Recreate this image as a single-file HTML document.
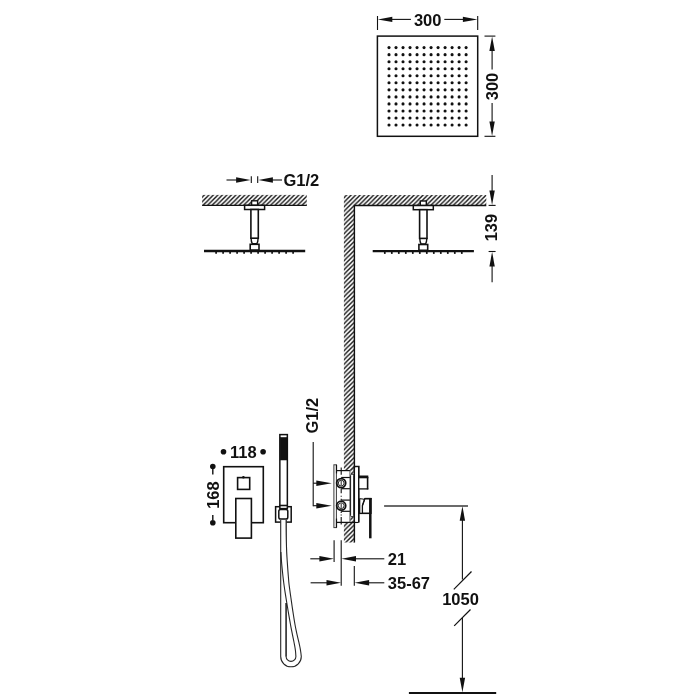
<!DOCTYPE html>
<html><head><meta charset="utf-8"><title>Shower set dimensions</title>
<style>html,body{margin:0;padding:0;background:#fff;}body{width:700px;height:700px;overflow:hidden;}svg{display:block;will-change:transform;filter:grayscale(1);}text{font-family:"Liberation Sans",sans-serif;font-weight:bold;font-size:16.5px;fill:#111111;}</style>
</head><body>
<svg width="700" height="700" viewBox="0 0 700 700">
<defs>
<pattern id="h" patternUnits="userSpaceOnUse" width="4.5" height="4.5" x="1.70" y="0">
<path d="M-1,1 L1,-1 M-1,5.5 L5.5,-1 M3.5,5.5 L5.5,3.5" stroke="#111111" stroke-width="1.42" fill="none"/>
</pattern>
<pattern id="h2" patternUnits="userSpaceOnUse" width="4.5" height="4.5" x="3.40" y="0">
<path d="M-1,1 L1,-1 M-1,5.5 L5.5,-1 M3.5,5.5 L5.5,3.5" stroke="#111111" stroke-width="1.42" fill="none"/>
</pattern>
</defs>
<rect width="700" height="700" fill="#fff"/>
<!-- top view -->
<rect x="377.40" y="36.10" width="100.30" height="100.20" fill="none" stroke="#111111" stroke-width="1.50" />
<g fill="#111111"><circle cx="389.00" cy="47.60" r="1.55"/><circle cx="389.00" cy="54.64" r="1.55"/><circle cx="389.00" cy="61.68" r="1.55"/><circle cx="389.00" cy="68.72" r="1.55"/><circle cx="389.00" cy="75.76" r="1.55"/><circle cx="389.00" cy="82.80" r="1.55"/><circle cx="389.00" cy="89.84" r="1.55"/><circle cx="389.00" cy="96.88" r="1.55"/><circle cx="389.00" cy="103.92" r="1.55"/><circle cx="389.00" cy="110.96" r="1.55"/><circle cx="389.00" cy="118.00" r="1.55"/><circle cx="389.00" cy="125.04" r="1.55"/><circle cx="396.01" cy="47.60" r="1.55"/><circle cx="396.01" cy="54.64" r="1.55"/><circle cx="396.01" cy="61.68" r="1.55"/><circle cx="396.01" cy="68.72" r="1.55"/><circle cx="396.01" cy="75.76" r="1.55"/><circle cx="396.01" cy="82.80" r="1.55"/><circle cx="396.01" cy="89.84" r="1.55"/><circle cx="396.01" cy="96.88" r="1.55"/><circle cx="396.01" cy="103.92" r="1.55"/><circle cx="396.01" cy="110.96" r="1.55"/><circle cx="396.01" cy="118.00" r="1.55"/><circle cx="396.01" cy="125.04" r="1.55"/><circle cx="403.02" cy="47.60" r="1.55"/><circle cx="403.02" cy="54.64" r="1.55"/><circle cx="403.02" cy="61.68" r="1.55"/><circle cx="403.02" cy="68.72" r="1.55"/><circle cx="403.02" cy="75.76" r="1.55"/><circle cx="403.02" cy="82.80" r="1.55"/><circle cx="403.02" cy="89.84" r="1.55"/><circle cx="403.02" cy="96.88" r="1.55"/><circle cx="403.02" cy="103.92" r="1.55"/><circle cx="403.02" cy="110.96" r="1.55"/><circle cx="403.02" cy="118.00" r="1.55"/><circle cx="403.02" cy="125.04" r="1.55"/><circle cx="410.03" cy="47.60" r="1.55"/><circle cx="410.03" cy="54.64" r="1.55"/><circle cx="410.03" cy="61.68" r="1.55"/><circle cx="410.03" cy="68.72" r="1.55"/><circle cx="410.03" cy="75.76" r="1.55"/><circle cx="410.03" cy="82.80" r="1.55"/><circle cx="410.03" cy="89.84" r="1.55"/><circle cx="410.03" cy="96.88" r="1.55"/><circle cx="410.03" cy="103.92" r="1.55"/><circle cx="410.03" cy="110.96" r="1.55"/><circle cx="410.03" cy="118.00" r="1.55"/><circle cx="410.03" cy="125.04" r="1.55"/><circle cx="417.04" cy="47.60" r="1.55"/><circle cx="417.04" cy="54.64" r="1.55"/><circle cx="417.04" cy="61.68" r="1.55"/><circle cx="417.04" cy="68.72" r="1.55"/><circle cx="417.04" cy="75.76" r="1.55"/><circle cx="417.04" cy="82.80" r="1.55"/><circle cx="417.04" cy="89.84" r="1.55"/><circle cx="417.04" cy="96.88" r="1.55"/><circle cx="417.04" cy="103.92" r="1.55"/><circle cx="417.04" cy="110.96" r="1.55"/><circle cx="417.04" cy="118.00" r="1.55"/><circle cx="417.04" cy="125.04" r="1.55"/><circle cx="424.05" cy="47.60" r="1.55"/><circle cx="424.05" cy="54.64" r="1.55"/><circle cx="424.05" cy="61.68" r="1.55"/><circle cx="424.05" cy="68.72" r="1.55"/><circle cx="424.05" cy="75.76" r="1.55"/><circle cx="424.05" cy="82.80" r="1.55"/><circle cx="424.05" cy="89.84" r="1.55"/><circle cx="424.05" cy="96.88" r="1.55"/><circle cx="424.05" cy="103.92" r="1.55"/><circle cx="424.05" cy="110.96" r="1.55"/><circle cx="424.05" cy="118.00" r="1.55"/><circle cx="424.05" cy="125.04" r="1.55"/><circle cx="431.06" cy="47.60" r="1.55"/><circle cx="431.06" cy="54.64" r="1.55"/><circle cx="431.06" cy="61.68" r="1.55"/><circle cx="431.06" cy="68.72" r="1.55"/><circle cx="431.06" cy="75.76" r="1.55"/><circle cx="431.06" cy="82.80" r="1.55"/><circle cx="431.06" cy="89.84" r="1.55"/><circle cx="431.06" cy="96.88" r="1.55"/><circle cx="431.06" cy="103.92" r="1.55"/><circle cx="431.06" cy="110.96" r="1.55"/><circle cx="431.06" cy="118.00" r="1.55"/><circle cx="431.06" cy="125.04" r="1.55"/><circle cx="438.07" cy="47.60" r="1.55"/><circle cx="438.07" cy="54.64" r="1.55"/><circle cx="438.07" cy="61.68" r="1.55"/><circle cx="438.07" cy="68.72" r="1.55"/><circle cx="438.07" cy="75.76" r="1.55"/><circle cx="438.07" cy="82.80" r="1.55"/><circle cx="438.07" cy="89.84" r="1.55"/><circle cx="438.07" cy="96.88" r="1.55"/><circle cx="438.07" cy="103.92" r="1.55"/><circle cx="438.07" cy="110.96" r="1.55"/><circle cx="438.07" cy="118.00" r="1.55"/><circle cx="438.07" cy="125.04" r="1.55"/><circle cx="445.08" cy="47.60" r="1.55"/><circle cx="445.08" cy="54.64" r="1.55"/><circle cx="445.08" cy="61.68" r="1.55"/><circle cx="445.08" cy="68.72" r="1.55"/><circle cx="445.08" cy="75.76" r="1.55"/><circle cx="445.08" cy="82.80" r="1.55"/><circle cx="445.08" cy="89.84" r="1.55"/><circle cx="445.08" cy="96.88" r="1.55"/><circle cx="445.08" cy="103.92" r="1.55"/><circle cx="445.08" cy="110.96" r="1.55"/><circle cx="445.08" cy="118.00" r="1.55"/><circle cx="445.08" cy="125.04" r="1.55"/><circle cx="452.09" cy="47.60" r="1.55"/><circle cx="452.09" cy="54.64" r="1.55"/><circle cx="452.09" cy="61.68" r="1.55"/><circle cx="452.09" cy="68.72" r="1.55"/><circle cx="452.09" cy="75.76" r="1.55"/><circle cx="452.09" cy="82.80" r="1.55"/><circle cx="452.09" cy="89.84" r="1.55"/><circle cx="452.09" cy="96.88" r="1.55"/><circle cx="452.09" cy="103.92" r="1.55"/><circle cx="452.09" cy="110.96" r="1.55"/><circle cx="452.09" cy="118.00" r="1.55"/><circle cx="452.09" cy="125.04" r="1.55"/><circle cx="459.10" cy="47.60" r="1.55"/><circle cx="459.10" cy="54.64" r="1.55"/><circle cx="459.10" cy="61.68" r="1.55"/><circle cx="459.10" cy="68.72" r="1.55"/><circle cx="459.10" cy="75.76" r="1.55"/><circle cx="459.10" cy="82.80" r="1.55"/><circle cx="459.10" cy="89.84" r="1.55"/><circle cx="459.10" cy="96.88" r="1.55"/><circle cx="459.10" cy="103.92" r="1.55"/><circle cx="459.10" cy="110.96" r="1.55"/><circle cx="459.10" cy="118.00" r="1.55"/><circle cx="459.10" cy="125.04" r="1.55"/><circle cx="466.11" cy="47.60" r="1.55"/><circle cx="466.11" cy="54.64" r="1.55"/><circle cx="466.11" cy="61.68" r="1.55"/><circle cx="466.11" cy="68.72" r="1.55"/><circle cx="466.11" cy="75.76" r="1.55"/><circle cx="466.11" cy="82.80" r="1.55"/><circle cx="466.11" cy="89.84" r="1.55"/><circle cx="466.11" cy="96.88" r="1.55"/><circle cx="466.11" cy="103.92" r="1.55"/><circle cx="466.11" cy="110.96" r="1.55"/><circle cx="466.11" cy="118.00" r="1.55"/><circle cx="466.11" cy="125.04" r="1.55"/></g>
<line x1="377.50" y1="16.00" x2="377.50" y2="30.00" stroke="#111111" stroke-width="1.10" />
<line x1="477.70" y1="16.00" x2="477.70" y2="30.00" stroke="#111111" stroke-width="1.10" />
<polygon points="377.80,19.40 392.30,16.70 392.30,22.10" fill="#111111"/>
<line x1="390.00" y1="19.40" x2="410.90" y2="19.40" stroke="#111111" stroke-width="1.10" />
<line x1="444.30" y1="19.40" x2="465.00" y2="19.40" stroke="#111111" stroke-width="1.10" />
<polygon points="477.40,19.40 462.90,16.70 462.90,22.10" fill="#111111"/>
<text x="427.70" y="25.50" text-anchor="middle">300</text>
<line x1="484.50" y1="36.10" x2="495.40" y2="36.10" stroke="#111111" stroke-width="1.10" />
<line x1="484.50" y1="136.30" x2="495.40" y2="136.30" stroke="#111111" stroke-width="1.10" />
<polygon points="492.10,36.40 489.40,50.90 494.80,50.90" fill="#111111"/>
<line x1="492.10" y1="49.00" x2="492.10" y2="69.60" stroke="#111111" stroke-width="1.10" />
<line x1="492.10" y1="102.90" x2="492.10" y2="123.00" stroke="#111111" stroke-width="1.10" />
<polygon points="492.10,136.00 489.40,121.50 494.80,121.50" fill="#111111"/>
<text transform="translate(498.20,86.50) rotate(-90)" text-anchor="middle">300</text>
<!-- left ceiling -->
<rect x="202.1" y="194.9" width="104.7" height="10.4" fill="url(#h2)"/>
<line x1="202.10" y1="205.30" x2="306.80" y2="205.30" stroke="#111111" stroke-width="1.30" />
<rect x="251.60" y="200.80" width="6.00" height="4.50" fill="#fff" stroke="#111111" stroke-width="1.40" />
<rect x="244.60" y="205.30" width="20.00" height="4.20" fill="#fff" stroke="#111111" stroke-width="1.50" />
<path d="M251.10,238.20 Q251.20,241.70 252.30,243.80 L256.90,243.80 Q258.00,241.70 258.10,238.20 Z" fill="#fff" stroke="#111111" stroke-width="1.4"/>
<rect x="250.90" y="209.50" width="7.40" height="28.70" fill="#fff" stroke="#111111" stroke-width="1.60" />
<rect x="250.20" y="244.30" width="8.80" height="5.80" fill="#fff" stroke="#111111" stroke-width="1.60" />
<line x1="204.00" y1="251.00" x2="305.20" y2="251.00" stroke="#111111" stroke-width="2.30" />
<line x1="216.10" y1="251.00" x2="216.10" y2="253.70" stroke="#111111" stroke-width="1.70" />
<line x1="223.10" y1="251.00" x2="223.10" y2="253.70" stroke="#111111" stroke-width="1.70" />
<line x1="230.10" y1="251.00" x2="230.10" y2="253.70" stroke="#111111" stroke-width="1.70" />
<line x1="237.10" y1="251.00" x2="237.10" y2="253.70" stroke="#111111" stroke-width="1.70" />
<line x1="244.10" y1="251.00" x2="244.10" y2="253.70" stroke="#111111" stroke-width="1.70" />
<line x1="251.10" y1="251.00" x2="251.10" y2="253.70" stroke="#111111" stroke-width="1.70" />
<line x1="258.10" y1="251.00" x2="258.10" y2="253.70" stroke="#111111" stroke-width="1.70" />
<line x1="265.10" y1="251.00" x2="265.10" y2="253.70" stroke="#111111" stroke-width="1.70" />
<line x1="272.10" y1="251.00" x2="272.10" y2="253.70" stroke="#111111" stroke-width="1.70" />
<line x1="279.10" y1="251.00" x2="279.10" y2="253.70" stroke="#111111" stroke-width="1.70" />
<line x1="286.10" y1="251.00" x2="286.10" y2="253.70" stroke="#111111" stroke-width="1.70" />
<line x1="293.10" y1="251.00" x2="293.10" y2="253.70" stroke="#111111" stroke-width="1.70" />
<line x1="226.50" y1="180.00" x2="238.00" y2="180.00" stroke="#111111" stroke-width="1.10" />
<polygon points="250.60,180.00 236.10,177.30 236.10,182.70" fill="#111111"/>
<line x1="251.30" y1="176.20" x2="251.30" y2="183.10" stroke="#111111" stroke-width="1.10" />
<line x1="257.70" y1="176.20" x2="257.70" y2="183.10" stroke="#111111" stroke-width="1.10" />
<polygon points="258.40,180.00 272.90,177.30 272.90,182.70" fill="#111111"/>
<line x1="271.00" y1="180.00" x2="282.00" y2="180.00" stroke="#111111" stroke-width="1.10" />
<text x="283.50" y="185.70" text-anchor="start">G1/2</text>
<!-- right ceiling / wall -->
<polygon points="343.9,195.1 486.3,195.1 486.3,205.5 354.4,205.5 354.4,542.5 343.9,542.5" fill="url(#h)"/>
<line x1="353.80" y1="205.50" x2="486.30" y2="205.50" stroke="#111111" stroke-width="1.30" />
<line x1="354.40" y1="205.50" x2="354.40" y2="542.50" stroke="#111111" stroke-width="1.40" />
<rect x="420.30" y="201.00" width="6.00" height="4.50" fill="#fff" stroke="#111111" stroke-width="1.40" />
<rect x="413.30" y="205.50" width="20.00" height="4.20" fill="#fff" stroke="#111111" stroke-width="1.50" />
<path d="M419.80,238.40 Q419.90,241.90 421.00,244.00 L425.60,244.00 Q426.70,241.90 426.80,238.40 Z" fill="#fff" stroke="#111111" stroke-width="1.4"/>
<rect x="419.60" y="209.70" width="7.40" height="28.70" fill="#fff" stroke="#111111" stroke-width="1.60" />
<rect x="418.90" y="244.50" width="8.80" height="5.80" fill="#fff" stroke="#111111" stroke-width="1.60" />
<line x1="372.70" y1="251.20" x2="473.90" y2="251.20" stroke="#111111" stroke-width="2.30" />
<line x1="384.80" y1="251.20" x2="384.80" y2="253.90" stroke="#111111" stroke-width="1.70" />
<line x1="391.80" y1="251.20" x2="391.80" y2="253.90" stroke="#111111" stroke-width="1.70" />
<line x1="398.80" y1="251.20" x2="398.80" y2="253.90" stroke="#111111" stroke-width="1.70" />
<line x1="405.80" y1="251.20" x2="405.80" y2="253.90" stroke="#111111" stroke-width="1.70" />
<line x1="412.80" y1="251.20" x2="412.80" y2="253.90" stroke="#111111" stroke-width="1.70" />
<line x1="419.80" y1="251.20" x2="419.80" y2="253.90" stroke="#111111" stroke-width="1.70" />
<line x1="426.80" y1="251.20" x2="426.80" y2="253.90" stroke="#111111" stroke-width="1.70" />
<line x1="433.80" y1="251.20" x2="433.80" y2="253.90" stroke="#111111" stroke-width="1.70" />
<line x1="440.80" y1="251.20" x2="440.80" y2="253.90" stroke="#111111" stroke-width="1.70" />
<line x1="447.80" y1="251.20" x2="447.80" y2="253.90" stroke="#111111" stroke-width="1.70" />
<line x1="454.80" y1="251.20" x2="454.80" y2="253.90" stroke="#111111" stroke-width="1.70" />
<line x1="461.80" y1="251.20" x2="461.80" y2="253.90" stroke="#111111" stroke-width="1.70" />
<line x1="492.10" y1="175.00" x2="492.10" y2="192.00" stroke="#111111" stroke-width="1.10" />
<polygon points="492.10,205.00 489.40,190.50 494.80,190.50" fill="#111111"/>
<line x1="488.60" y1="205.40" x2="495.60" y2="205.40" stroke="#111111" stroke-width="1.10" />
<line x1="488.60" y1="251.50" x2="495.60" y2="251.50" stroke="#111111" stroke-width="1.10" />
<polygon points="492.10,251.90 489.40,266.40 494.80,266.40" fill="#111111"/>
<line x1="492.10" y1="265.00" x2="492.10" y2="282.30" stroke="#111111" stroke-width="1.10" />
<text transform="translate(497.30,227.60) rotate(-90)" text-anchor="middle">139</text>
<!-- valve front -->
<rect x="223.70" y="466.70" width="39.60" height="56.00" fill="none" stroke="#111111" stroke-width="1.60" />
<rect x="237.60" y="477.60" width="12.10" height="11.80" fill="none" stroke="#111111" stroke-width="1.60" />
<circle cx="243.4" cy="477.3" r="1.3" fill="#111111"/>
<rect x="235.80" y="498.50" width="15.60" height="39.60" fill="#fff" stroke="#111111" stroke-width="1.60" />
<circle cx="223.5" cy="451.8" r="2.8" fill="#111111"/>
<circle cx="263.1" cy="451.8" r="2.8" fill="#111111"/>
<text x="243.30" y="457.60" text-anchor="middle">118</text>
<circle cx="212.8" cy="466.5" r="2.8" fill="#111111"/>
<circle cx="212.8" cy="522.7" r="2.8" fill="#111111"/>
<line x1="212.80" y1="469.00" x2="212.80" y2="474.50" stroke="#111111" stroke-width="1.40" />
<line x1="212.80" y1="515.00" x2="212.80" y2="520.00" stroke="#111111" stroke-width="1.40" />
<text transform="translate(218.70,495.10) rotate(-90)" text-anchor="middle">168</text>
<!-- hand shower -->
<rect x="275.60" y="506.70" width="15.60" height="15.40" fill="none" stroke="#111111" stroke-width="1.50" />
<rect x="281.2" y="519" width="4.6" height="5" fill="#fff"/>
<line x1="286.10" y1="520.00" x2="286.10" y2="650.00" stroke="#262626" stroke-width="1.10" />
<path d="M280.7,520 V656.5 A10.3,10.3 0 0 0 301.3,656.5 L301.22,655.86 L301.13,655.11 L301.04,654.23 L300.91,653.19 L300.75,651.97 L300.54,650.55 L300.26,648.90 L299.90,647.00 L299.45,644.85 L298.91,642.46 L298.29,639.85 L297.63,637.03 L296.94,634.02 L296.24,630.84 L295.55,627.49 L294.90,624.00 L294.24,620.13 L293.55,615.78 L292.83,611.13 L292.12,606.38 L291.45,601.70 L290.82,597.28 L290.26,593.32 L289.80,590.00 L289.45,587.44 L289.19,585.51 L289.01,584.03 L288.88,582.81 L288.78,581.68 L288.68,580.46 L288.56,578.96 L288.40,577.00 L288.20,574.58 L287.99,571.86 L287.77,568.93 L287.55,565.88 L287.34,562.77 L287.13,559.70 L286.95,556.75 L286.80,554.00 L286.67,551.41 L286.57,548.88 L286.48,546.41 L286.41,544.00 L286.34,541.66 L286.29,539.38 L286.24,537.16 L286.20,535.00 L286.16,532.83 L286.14,530.62 L286.12,528.42 L286.11,526.31 L286.11,524.35 L286.11,522.60 L286.10,521.13 L286.10,520.00 Z" fill="#fff" stroke="none"/>
<line x1="286.10" y1="603.00" x2="286.10" y2="656.50" stroke="#262626" stroke-width="1.10" />
<path d="M280.7,520 V656.5 A10.3,10.3 0 0 0 301.3,656.5 L301.22,655.86 L301.13,655.11 L301.04,654.23 L300.91,653.19 L300.75,651.97 L300.54,650.55 L300.26,648.90 L299.90,647.00 L299.45,644.85 L298.91,642.46 L298.29,639.85 L297.63,637.03 L296.94,634.02 L296.24,630.84 L295.55,627.49 L294.90,624.00 L294.24,620.13 L293.55,615.78 L292.83,611.13 L292.12,606.38 L291.45,601.70 L290.82,597.28 L290.26,593.32 L289.80,590.00 L289.45,587.44 L289.19,585.51 L289.01,584.03 L288.88,582.81 L288.78,581.68 L288.68,580.46 L288.56,578.96 L288.40,577.00 L288.20,574.58 L287.99,571.86 L287.77,568.93 L287.55,565.88 L287.34,562.77 L287.13,559.70 L286.95,556.75 L286.80,554.00 L286.67,551.41 L286.57,548.88 L286.48,546.41 L286.41,544.00 L286.34,541.66 L286.29,539.38 L286.24,537.16 L286.20,535.00 L286.16,532.83 L286.14,530.62 L286.12,528.42 L286.11,526.31 L286.11,524.35 L286.11,522.60 L286.10,521.13 L286.10,520.00" fill="none" stroke="#262626" stroke-width="1.10"/>
<path d="M286.1,603 V656.5 A4.9,4.9 0 0 0 295.9,656.5 L295.85,655.86 L295.80,655.11 L295.75,654.23 L295.68,653.19 L295.58,651.97 L295.42,650.55 L295.20,648.90 L294.90,647.00 L294.51,644.85 L294.05,642.48 L293.53,639.89 L292.95,637.09 L292.34,634.10 L291.70,630.91 L291.05,627.54 L290.40,624.00 L289.72,620.12 L288.97,615.81 L288.18,611.23 L287.39,606.50 L286.61,601.77 L285.86,597.19 L285.19,592.88 L284.60,589.00 L284.10,585.49 L283.67,582.20 L283.29,579.10 L282.95,576.19 L282.65,573.44 L282.38,570.84 L282.13,568.36 L281.90,566.00 L281.69,563.72 L281.51,561.54 L281.36,559.48 L281.23,557.56 L281.13,555.83 L281.04,554.30 L280.97,553.02 L280.90,552.00" fill="none" stroke="#262626" stroke-width="1.10"/>
<rect x="279.85" y="434.60" width="7.50" height="74.00" fill="#fff" stroke="#111111" stroke-width="1.50" />
<rect x="280.10" y="437.40" width="7.00" height="22.60" fill="#111111" stroke="#111111" stroke-width="0.50" />
<line x1="279.20" y1="505.50" x2="288.00" y2="505.50" stroke="#111111" stroke-width="1.60" />
<rect x="278.8" y="509.4" width="9.0" height="9.6" rx="1.8" ry="1.8" fill="#fff" stroke="#111111" stroke-width="1.5"/>
<!-- valve side -->
<rect x="336.5" y="470.5" width="17.4" height="51.9" fill="#fff"/>
<rect x="333.90" y="464.80" width="2.50" height="62.80" fill="#fff" stroke="#3a3a3a" stroke-width="1.00" />
<line x1="336.50" y1="464.80" x2="336.50" y2="473.40" stroke="#111111" stroke-width="1.20" />
<line x1="336.50" y1="518.60" x2="336.50" y2="527.60" stroke="#111111" stroke-width="1.20" />
<line x1="336.40" y1="470.60" x2="350.40" y2="470.60" stroke="#111111" stroke-width="1.20" />
<line x1="336.40" y1="522.40" x2="358.60" y2="522.40" stroke="#111111" stroke-width="1.30" />
<line x1="349.90" y1="470.60" x2="349.90" y2="522.40" stroke="#555" stroke-width="0.90" />
<path d="M341.2,467.5 V474.8 M341.2,488.9 V493.2 M341.2,495.7 V496.7 M341.2,498.7 V500 M341.2,511.5 V513 M341.2,514.5 V515.5 M341.2,517 V524.5" stroke="#111111" stroke-width="1.1" fill="none"/>
<line x1="341.20" y1="477.50" x2="349.90" y2="477.50" stroke="#111111" stroke-width="1.20" />
<line x1="341.20" y1="488.70" x2="349.90" y2="488.70" stroke="#111111" stroke-width="1.20" />
<circle cx="341.2" cy="483.10" r="4.5" fill="#fff" stroke="#111111" stroke-width="1.8"/>
<circle cx="341.2" cy="483.10" r="2.9" fill="none" stroke="#111111" stroke-width="0.9"/>
<line x1="341.20" y1="480.90" x2="341.20" y2="485.30" stroke="#111111" stroke-width="0.90" />
<line x1="341.20" y1="500.10" x2="349.90" y2="500.10" stroke="#111111" stroke-width="1.20" />
<line x1="341.20" y1="511.30" x2="349.90" y2="511.30" stroke="#111111" stroke-width="1.20" />
<circle cx="341.2" cy="505.70" r="4.5" fill="#fff" stroke="#111111" stroke-width="1.8"/>
<circle cx="341.2" cy="505.70" r="2.9" fill="none" stroke="#111111" stroke-width="0.9"/>
<line x1="341.20" y1="503.50" x2="341.20" y2="507.90" stroke="#111111" stroke-width="0.90" />
<rect x="350.6" y="474.3" width="3.2" height="42.3" rx="1" ry="1" fill="#fff" stroke="#111111" stroke-width="1.0"/>
<polygon points="350.4,471.2 353.8,467.5 353.8,474 351,474" fill="url(#h)"/>
<polygon points="350.4,516.8 353.8,516.8 353.8,522 350.4,522" fill="url(#h)"/>
<line x1="354.40" y1="466.40" x2="354.40" y2="522.40" stroke="#111111" stroke-width="1.60" />
<path d="M354.4,466.6 H358.8 V522.4" fill="none" stroke="#111111" stroke-width="1.7"/>
<rect x="355.2" y="467.4" width="2.8" height="54.3" fill="#fff"/>
<rect x="359.6" y="477.5" width="7.4" height="11" fill="#fff"/>
<line x1="358.80" y1="476.90" x2="368.30" y2="476.90" stroke="#111111" stroke-width="2.80" />
<line x1="367.60" y1="476.90" x2="367.60" y2="489.40" stroke="#111111" stroke-width="1.60" />
<line x1="358.80" y1="488.90" x2="368.30" y2="488.90" stroke="#111111" stroke-width="1.30" />
<path d="M359.4,499 H362.0 V513.4 H359.4 Z" fill="#fff" stroke="none"/>
<line x1="359.60" y1="498.60" x2="359.60" y2="513.40" stroke="#111111" stroke-width="1.40" />
<path d="M362.4,513.4 V505.7 L364.8,498.6 H371.0 V513.4 Z" fill="#fff" stroke="#111111" stroke-width="1.3"/>
<path d="M359.4,498.8 Q362.5,498.6 364.6,499.6 L362.6,505" fill="none" stroke="#111111" stroke-width="1.1"/>
<line x1="358.80" y1="513.40" x2="369.50" y2="513.40" stroke="#111111" stroke-width="1.40" />
<line x1="370.30" y1="498.00" x2="370.30" y2="538.30" stroke="#111111" stroke-width="2.50" />
<line x1="364.60" y1="498.60" x2="371.50" y2="498.60" stroke="#111111" stroke-width="1.50" />
<text transform="translate(317.90,415.70) rotate(-90)" text-anchor="middle">G1/2</text>
<line x1="313.20" y1="442.00" x2="313.20" y2="506.20" stroke="#111111" stroke-width="1.10" />
<line x1="313.20" y1="483.20" x2="318.00" y2="483.20" stroke="#111111" stroke-width="1.10" />
<line x1="313.20" y1="505.70" x2="318.00" y2="505.70" stroke="#111111" stroke-width="1.10" />
<polygon points="331.80,483.20 316.30,480.50 316.30,485.90" fill="#111111"/>
<polygon points="331.80,505.70 316.30,503.00 316.30,508.40" fill="#111111"/>
<!-- dims -->
<line x1="334.10" y1="540.30" x2="334.10" y2="562.00" stroke="#111111" stroke-width="1.10" />
<line x1="341.20" y1="540.30" x2="341.20" y2="585.70" stroke="#111111" stroke-width="1.10" />
<line x1="354.30" y1="566.00" x2="354.30" y2="585.70" stroke="#111111" stroke-width="1.10" />
<line x1="310.30" y1="558.80" x2="322.00" y2="558.80" stroke="#111111" stroke-width="1.10" />
<polygon points="333.90,558.80 319.40,556.10 319.40,561.50" fill="#111111"/>
<polygon points="341.50,558.80 356.00,556.10 356.00,561.50" fill="#111111"/>
<line x1="354.00" y1="558.80" x2="384.30" y2="558.80" stroke="#111111" stroke-width="1.10" />
<line x1="310.60" y1="582.80" x2="329.00" y2="582.80" stroke="#111111" stroke-width="1.10" />
<polygon points="341.00,582.80 326.50,580.10 326.50,585.50" fill="#111111"/>
<polygon points="354.60,582.80 369.10,580.10 369.10,585.50" fill="#111111"/>
<line x1="367.00" y1="582.80" x2="384.30" y2="582.80" stroke="#111111" stroke-width="1.10" />
<text x="387.80" y="564.50" text-anchor="start">21</text>
<text x="387.80" y="588.50" text-anchor="start">35-67</text>
<!-- 1050 -->
<line x1="384.10" y1="506.00" x2="468.00" y2="506.00" stroke="#3a3a3a" stroke-width="1.30" />
<line x1="462.40" y1="518.00" x2="462.40" y2="579.50" stroke="#111111" stroke-width="1.10" />
<polygon points="462.40,506.20 459.70,520.70 465.10,520.70" fill="#111111"/>
<line x1="453.80" y1="589.30" x2="471.50" y2="571.50" stroke="#111111" stroke-width="1.20" />
<line x1="454.20" y1="625.80" x2="470.50" y2="609.50" stroke="#111111" stroke-width="1.20" />
<line x1="462.40" y1="618.00" x2="462.40" y2="680.00" stroke="#111111" stroke-width="1.10" />
<polygon points="462.40,692.30 459.70,677.80 465.10,677.80" fill="#111111"/>
<line x1="408.90" y1="693.00" x2="496.20" y2="693.00" stroke="#111111" stroke-width="1.80" />
<text x="460.50" y="604.90" text-anchor="middle">1050</text>
</svg>
</body></html>
